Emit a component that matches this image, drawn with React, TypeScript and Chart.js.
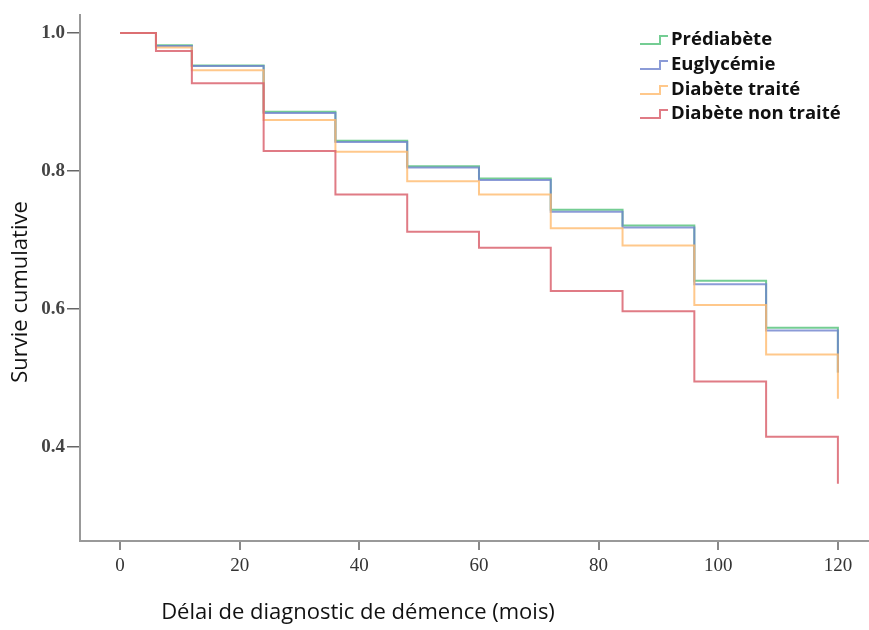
import React, { useEffect, useRef } from "react";
import { Chart, registerables } from "chart.js";

Chart.register(...registerables);

const months = [0, 6, 12, 24, 36, 48, 60, 72, 84, 96, 108, 120];
const seriesNames = ["Prédiabète", "Euglycémie", "Diabète traité", "Diabète non traité"];
const prediabete = [1.0, 0.982, 0.953, 0.886, 0.844, 0.807, 0.789, 0.744, 0.721, 0.641, 0.573, 0.508];
const euglycemie = [1.0, 0.981, 0.952, 0.884, 0.842, 0.805, 0.787, 0.741, 0.718, 0.636, 0.569, 0.508];
const diabeteTraite = [1.0, 0.979, 0.946, 0.874, 0.828, 0.785, 0.766, 0.717, 0.692, 0.606, 0.534, 0.47];
const diabeteNonTraite = [1.0, 0.974, 0.927, 0.829, 0.766, 0.712, 0.689, 0.626, 0.597, 0.495, 0.415, 0.347];
const colors = ["rgba(92,196,128,0.85)", "rgba(110,130,205,0.8)", "rgba(255,186,110,0.8)", "rgba(218,100,112,0.85)"];
const drawOrder = [3, 2, 1, 0];
const xTicks = [0, 20, 40, 60, 80, 100, 120];
const yTicks = [0.4, 0.6, 0.8, 1.0];
const xTitle = "Délai de diagnostic de démence (mois)";
const yTitle = "Survie cumulative";

const allSeries = [prediabete, euglycemie, diabeteTraite, diabeteNonTraite];

const overlay = {
  id: "overlay",
  afterDraw(chart: any) {
    const ctx = chart.ctx;
    ctx.save();
    // legend
    const rows = [40, 65, 90, 114];
    seriesNames.forEach((name, i) => {
      const cy = rows[i];
      ctx.strokeStyle = colors[i];
      ctx.lineWidth = 2;
      ctx.beginPath();
      ctx.moveTo(640, cy + 4);
      ctx.lineTo(660, cy + 4);
      ctx.lineTo(660, cy - 4);
      ctx.lineTo(668, cy - 4);
      ctx.stroke();
      ctx.fillStyle = "#111";
      ctx.font = "bold 18.5px 'Open Sans'";
      ctx.textBaseline = "middle";
      ctx.textAlign = "left";
      ctx.fillText(name, 671, cy);
    });
    // axis titles
    ctx.fillStyle = "#111";
    ctx.font = "22px 'Open Sans'";
    ctx.textAlign = "center";
    ctx.textBaseline = "middle";
    ctx.fillText(xTitle, 358, 613);
    ctx.translate(21, 292);
    ctx.rotate(-Math.PI / 2);
    ctx.fillText(yTitle, 0, 0);
    ctx.restore();
  },
};

export default function App() {
  const ref = useRef<HTMLCanvasElement | null>(null);
  useEffect(() => {
    document.body.style.margin = "0";
    const canvas = ref.current!;
    const chart = new Chart(canvas, {
      type: "line",
      data: {
        datasets: seriesNames.map((name, i) => ({
          label: name,
          data: months.map((m, j) => ({ x: m, y: allSeries[i][j] })),
          borderColor: colors[i],
          borderWidth: 2,
          pointRadius: 0,
          stepped: "before",
          fill: false,
          order: drawOrder[i],
        })),
      },
      options: {
        animation: false,
        responsive: false,
        maintainAspectRatio: false,
        layout: { padding: { top: 15, left: 0, right: 0, bottom: 0 } },
        plugins: { legend: { display: false }, tooltip: { enabled: false } },
        scales: {
          x: {
            type: "linear",
            min: -6.7,
            max: 125.2,
            afterBuildTicks: (s: any) => {
              s.ticks = xTicks.map((v) => ({ value: v }));
            },
            afterFit: (s: any) => {
              s.height = 89;
            },
            grid: { drawOnChartArea: false, drawTicks: true, tickLength: 9, color: "#888", lineWidth: 2 },
            border: { display: true, color: "#999", width: 2 },
            ticks: {
              font: { family: "'Liberation Serif'", size: 19 },
              color: "#333",
              padding: 5,
              maxRotation: 0,
              autoSkip: false,
            },
          },
          y: {
            type: "linear",
            min: 0.264,
            max: 1.026,
            afterBuildTicks: (s: any) => {
              s.ticks = yTicks.map((v) => ({ value: v }));
            },
            afterFit: (s: any) => {
              s.width = 80;
            },
            grid: { drawOnChartArea: false, drawTicks: true, tickLength: 13, color: "#666", lineWidth: 1.5 },
            border: { display: true, color: "#999", width: 2 },
            ticks: {
              font: { family: "'Liberation Serif'", size: 19, weight: "bold" },
              color: "#444",
              padding: 2,
              callback: (v: any) => Number(v).toFixed(1),
            },
          },
        },
      },
      plugins: [overlay],
    } as any);
    return () => chart.destroy();
  }, []);
  return <canvas ref={ref} width={869} height={630} style={{ display: "block" }} />;
}
